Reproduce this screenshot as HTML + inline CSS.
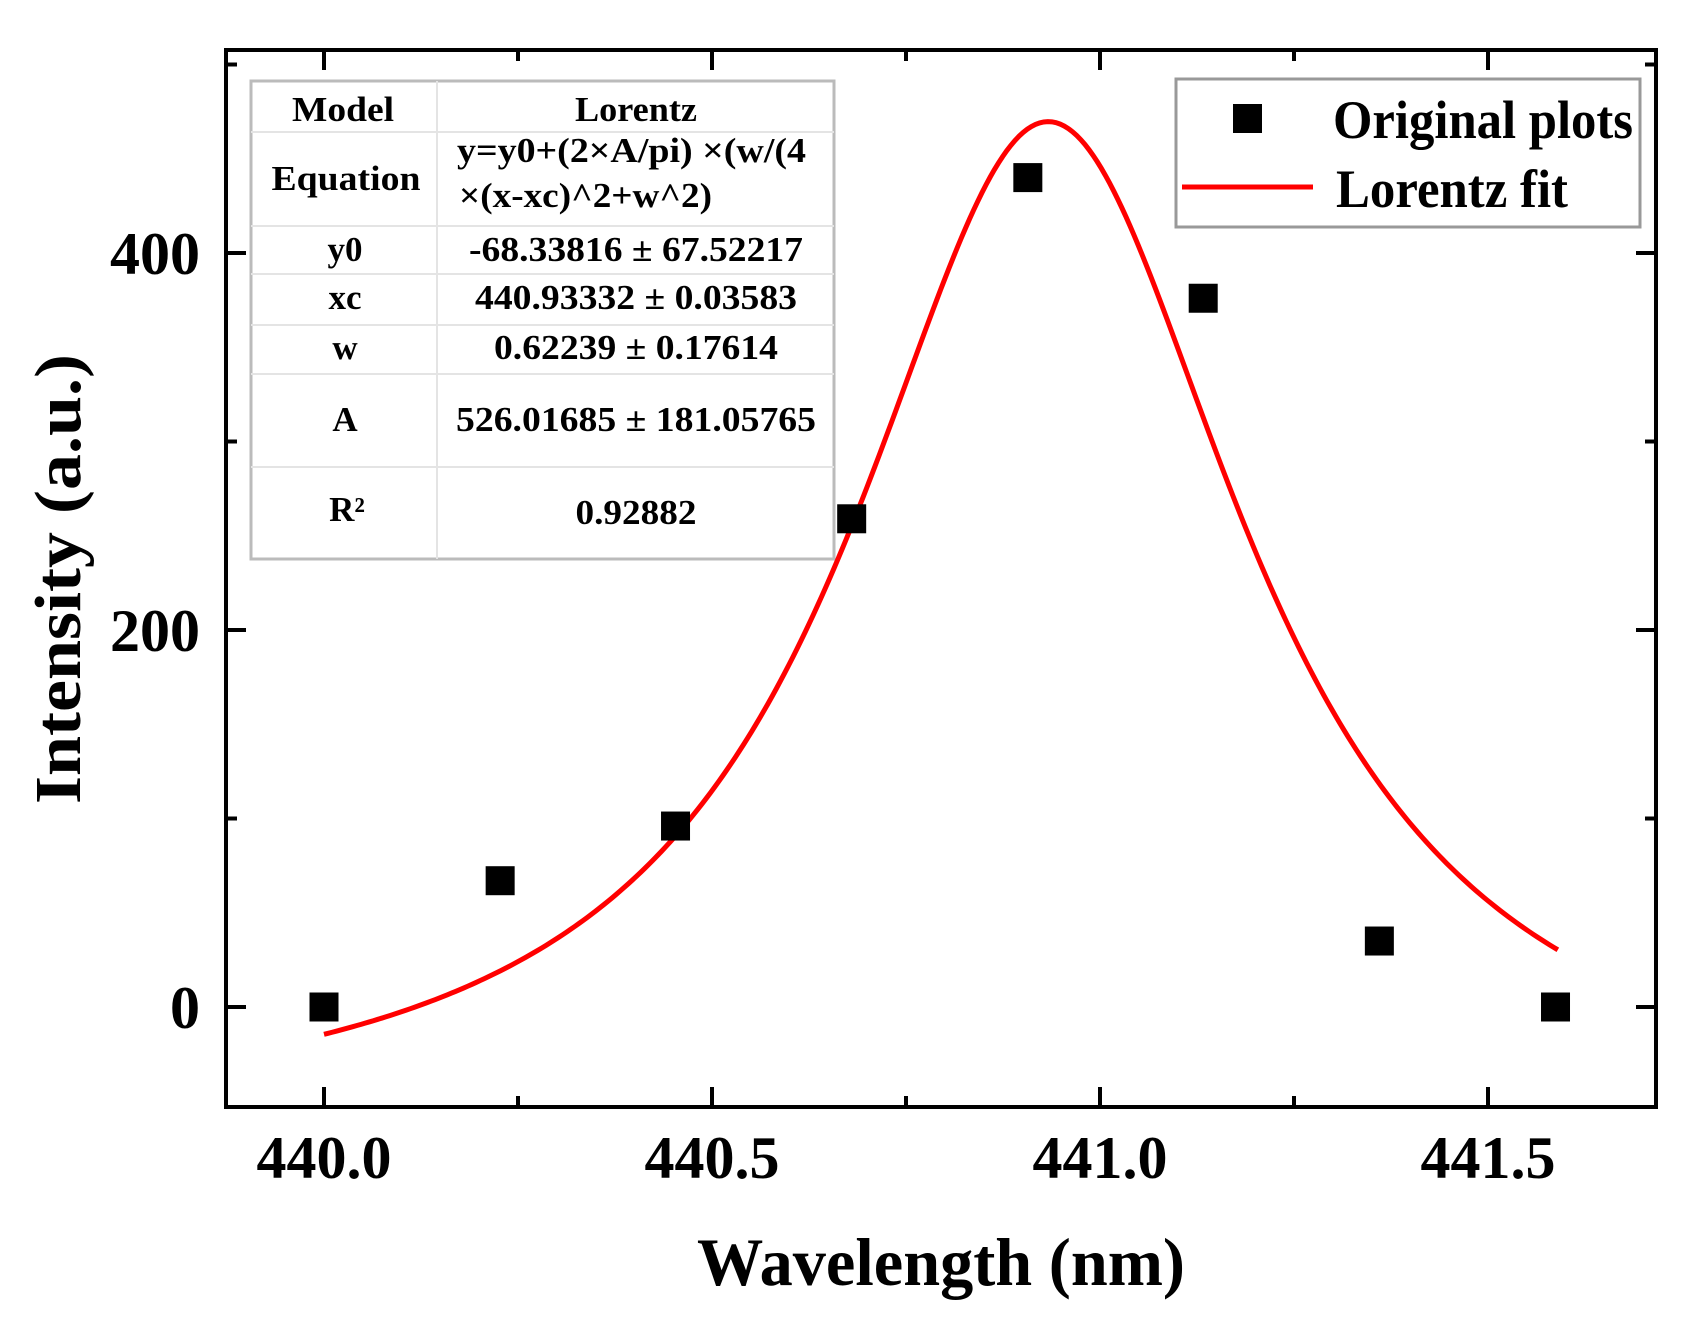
<!DOCTYPE html>
<html><head><meta charset="utf-8"><style>
html,body{margin:0;padding:0;background:#fff;}
svg{display:block;}
text{font-family:"Liberation Serif",serif;font-weight:bold;fill:#000;}
</style></head><body>
<svg id="chart" width="1691" height="1331" viewBox="0 0 1691 1331" xmlns="http://www.w3.org/2000/svg">
<g id="grid-layer"></g>
<g id="table-layer">
  <rect x="251" y="81" width="583" height="478" fill="#fff" stroke="#bbb" stroke-width="3"/>
  <g stroke="#e4e4e4" stroke-width="2">
    <line x1="437" y1="81" x2="437" y2="559"/>
    <line x1="251" y1="132" x2="834" y2="132"/>
    <line x1="251" y1="226" x2="834" y2="226"/>
    <line x1="251" y1="274" x2="834" y2="274"/>
    <line x1="251" y1="325" x2="834" y2="325"/>
    <line x1="251" y1="374" x2="834" y2="374"/>
    <line x1="251" y1="467" x2="834" y2="467"/>
  </g>
  <g font-size="35">
    <text x="343" y="121" text-anchor="middle" textLength="102" lengthAdjust="spacingAndGlyphs">Model</text>
    <text x="636" y="121" text-anchor="middle" textLength="122" lengthAdjust="spacingAndGlyphs">Lorentz</text>
    <text x="346" y="190" text-anchor="middle" textLength="149" lengthAdjust="spacingAndGlyphs">Equation</text>
    <text x="457" y="162" textLength="349" lengthAdjust="spacingAndGlyphs">y=y0+(2×A/pi) ×(w/(4</text>
    <text x="459" y="207" textLength="253" lengthAdjust="spacingAndGlyphs">×(x-xc)^2+w^2)</text>
    <text x="345" y="261" text-anchor="middle">y0</text>
    <text x="636" y="261" text-anchor="middle" textLength="334" lengthAdjust="spacingAndGlyphs">-68.33816 ± 67.52217</text>
    <text x="345" y="309" text-anchor="middle">xc</text>
    <text x="636" y="309" text-anchor="middle" textLength="322" lengthAdjust="spacingAndGlyphs">440.93332 ± 0.03583</text>
    <text x="345" y="359" text-anchor="middle">w</text>
    <text x="636" y="359" text-anchor="middle" textLength="284" lengthAdjust="spacingAndGlyphs">0.62239 ± 0.17614</text>
    <text x="345" y="431" text-anchor="middle">A</text>
    <text x="636" y="431" text-anchor="middle" textLength="360" lengthAdjust="spacingAndGlyphs">526.01685 ± 181.05765</text>
    <text x="347" y="521" text-anchor="middle">R²</text>
    <text x="636" y="524" text-anchor="middle" textLength="121" lengthAdjust="spacingAndGlyphs">0.92882</text>
  </g>
</g>
<g id="series-layer"></g>
<g id="axis-layer"></g>
<g id="legend">
  <rect x="1176" y="79" width="464" height="148" fill="#fff" stroke="#999" stroke-width="3"/>
  <rect x="1233" y="104" width="29" height="29" fill="#000"/>
  <line x1="1182" y1="187" x2="1313" y2="187" stroke="#f00" stroke-width="5"/>
  <text x="1333" y="138" font-size="54" textLength="300" lengthAdjust="spacingAndGlyphs">Original plots</text>
  <text x="1336" y="207" font-size="54" textLength="232" lengthAdjust="spacingAndGlyphs">Lorentz fit</text>
</g>
<text x="941" y="1285" font-size="68" text-anchor="middle" textLength="488" lengthAdjust="spacingAndGlyphs">Wavelength (nm)</text>
<text transform="translate(80,579) rotate(-90)" font-size="66" text-anchor="middle" textLength="450" lengthAdjust="spacingAndGlyphs">Intensity (a.u.)</text>
</svg>
<script>
const wavelengths = [440.0, 440.227, 440.453, 440.68, 440.907, 441.133, 441.36, 441.587];
const intensities = [0, 67, 96, 259, 440, 376, 35, 0];
const fitParams = [-68.33816, 440.93332, 0.62239, 526.01685]; // y0, xc, w, A
const fitRange = [440.0, 441.59];
const xTicks = [440.0, 440.5, 441.0, 441.5];
const xTickLabels = ["440.0", "440.5", "441.0", "441.5"];
const xMinorTicks = [440.25, 440.75, 441.25];
const yTicks = [0, 200, 400];
const yTickLabels = ["0", "200", "400"];
const yMinorTicks = [100, 300, 500];

const NS = "http://www.w3.org/2000/svg";
const L = 226, R = 1656, T = 50, B = 1107;
function sx(v){ return 324 + (v - 440.0) * 776; }
function sy(v){ return 1007 - v * 1.885; }
function mk(tag, attrs, parent){ const e = document.createElementNS(NS, tag); for (const k in attrs) e.setAttribute(k, attrs[k]); parent.appendChild(e); return e; }

const axis = document.getElementById('axis-layer');
const series = document.getElementById('series-layer');

const [y0, xc, w, A] = fitParams;
let d = "";
const n = 300;
for (let i = 0; i <= n; i++) {
  const x = fitRange[0] + (fitRange[1] - fitRange[0]) * i / n;
  const y = y0 + (2 * A / Math.PI) * (w / (4 * (x - xc) * (x - xc) + w * w));
  d += (i ? "L" : "M") + sx(x).toFixed(2) + "," + sy(y).toFixed(2);
}
const curve = mk('path', {d: d, fill: 'none', stroke: '#f00', 'stroke-width': 5}, series);



wavelengths.forEach((x, i) => {
  const r = mk('rect', {x: sx(x) - 14.5, y: sy(intensities[i]) - 14.5, width: 29, height: 29, fill: '#000'}, series);
  
  
});

const frame = mk('rect', {x: L, y: T, width: R - L, height: B - T, fill: 'none', stroke: '#000', 'stroke-width': 4}, axis);



xTicks.forEach((v, i) => {
  const x = sx(v);
  mk('line', {x1: x, y1: B, x2: x, y2: B - 20, stroke: '#000', 'stroke-width': 4}, axis);
  mk('line', {x1: x, y1: T, x2: x, y2: T + 20, stroke: '#000', 'stroke-width': 4}, axis);
  const t = mk('text', {x: x, y: 1178, 'font-size': 60, 'text-anchor': 'middle'}, axis);
  t.textContent = xTickLabels[i];
  
  
});
xMinorTicks.forEach(v => {
  const x = sx(v);
  mk('line', {x1: x, y1: B, x2: x, y2: B - 11, stroke: '#000', 'stroke-width': 4}, axis);
  mk('line', {x1: x, y1: T, x2: x, y2: T + 11, stroke: '#000', 'stroke-width': 4}, axis);
});
yTicks.forEach((v, i) => {
  const y = sy(v);
  mk('line', {x1: L, y1: y, x2: L + 20, y2: y, stroke: '#000', 'stroke-width': 4}, axis);
  mk('line', {x1: R, y1: y, x2: R - 20, y2: y, stroke: '#000', 'stroke-width': 4}, axis);
  const t = mk('text', {x: 200, y: y + 21, 'font-size': 60, 'text-anchor': 'end'}, axis);
  t.textContent = yTickLabels[i];
  
  
});
yMinorTicks.forEach(v => {
  const y = sy(v);
  if (y < T) return;
  mk('line', {x1: L, y1: y, x2: L + 11, y2: y, stroke: '#000', 'stroke-width': 4}, axis);
  mk('line', {x1: R, y1: y, x2: R - 11, y2: y, stroke: '#000', 'stroke-width': 4}, axis);
});
</script>
</body></html>
